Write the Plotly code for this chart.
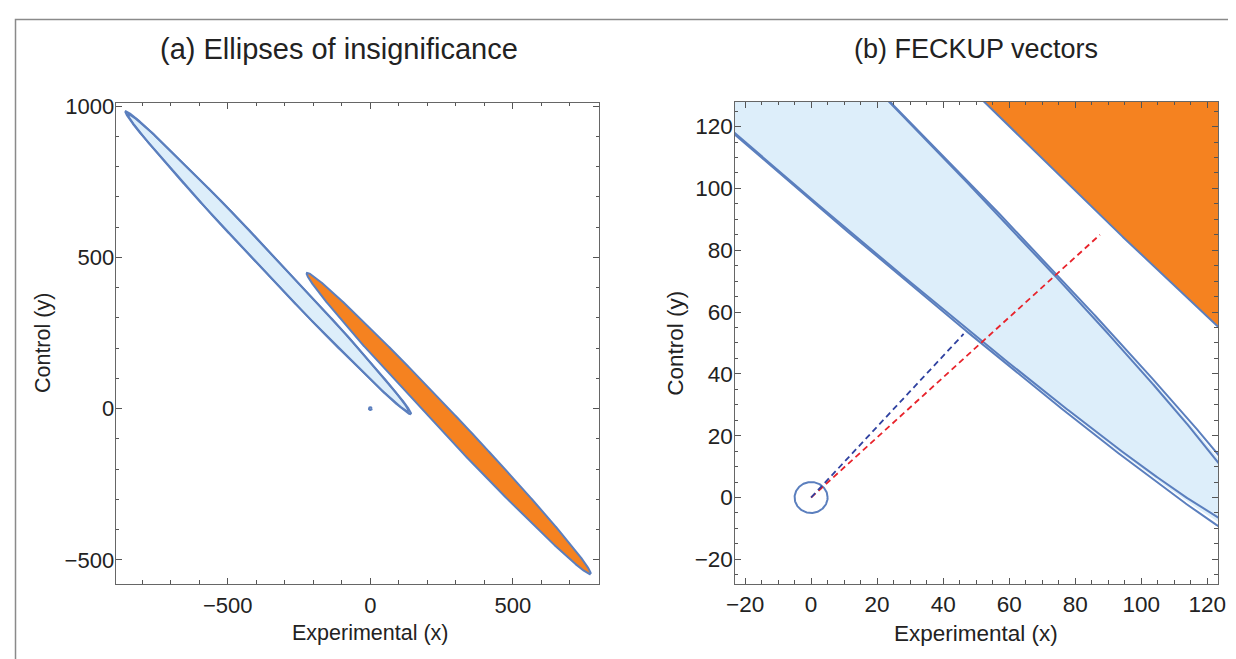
import numpy as np
import plotly.graph_objects as go

# ---------------- data ----------------
# ellipse of insignificance (light blue): centre, semi-axes, tilt
blue_center = [-358.0, 482.0]
blue_semi = [702.0, 29.5]
blue_outline_major = [696.0, 708.0]   # two slightly different drawn outlines
blue_angle = -45.0
# orange ellipse
orange_center = [274.8, -49.1]
orange_semi = [703.6, 35.0]
orange_angle = -45.0
# small circle round the origin
circle_center = [0.0, 0.0]
circle_radius = [5.0]
# FECKUP vectors (from origin)
vec_blue_x = [0.0, 46.2]
vec_blue_y = [0.0, 52.9]
vec_red_x = [0.0, 87.5]
vec_red_y = [0.0, 85.0]

titles = ["(a) Ellipses of insignificance", "(b) FECKUP vectors"]
xlabel = "Experimental (x)"
ylabel = "Control (y)"

range_a_x = [-893, 803]
range_a_y = [-580, 1011]
range_b_x = [-23.2, 123.3]
range_b_y = [-28, 128]

# ---------------- styling ----------------
OFF = 8                      # page body margin of the browser
W, H = 1236 - OFF, 659 - OFF
FONT = "Liberation Sans, Arial, Helvetica, sans-serif"
LINE = "#5b7fbe"
LIGHT = "#ddeefa"
ORANGE = "#f58220"
TXT = "#222222"


def ellipse(c, a, b, ang, n=6001):
    t = np.linspace(0, 2 * np.pi, n)
    th = np.deg2rad(ang)
    x = c[0] + a * np.cos(t) * np.cos(th) - b * np.sin(t) * np.sin(th)
    y = c[1] + a * np.cos(t) * np.sin(th) + b * np.sin(t) * np.cos(th)
    return x, y


fig = go.Figure()


def add_panel(xa, ya, with_vectors):
    x, y = ellipse(blue_center, blue_semi[0], blue_semi[1], blue_angle)
    fig.add_trace(go.Scatter(x=x, y=y, mode="lines", fill="toself",
                             fillcolor=LIGHT, line=dict(color=LIGHT, width=0),
                             xaxis=xa, yaxis=ya, hoverinfo="skip", showlegend=False))
    for amaj in blue_outline_major:
        x, y = ellipse(blue_center, amaj, blue_semi[1], blue_angle)
        fig.add_trace(go.Scatter(x=x, y=y, mode="lines",
                                 line=dict(color=LINE, width=2),
                                 xaxis=xa, yaxis=ya, hoverinfo="skip", showlegend=False))
    x, y = ellipse(orange_center, orange_semi[0], orange_semi[1], orange_angle)
    fig.add_trace(go.Scatter(x=x, y=y, mode="lines", fill="toself",
                             fillcolor=ORANGE, line=dict(color=LINE, width=2),
                             xaxis=xa, yaxis=ya, hoverinfo="skip", showlegend=False))
    x, y = ellipse(circle_center, circle_radius[0], circle_radius[0], 0, 200)
    fig.add_trace(go.Scatter(x=x, y=y, mode="lines",
                             line=dict(color=LINE, width=2),
                             xaxis=xa, yaxis=ya, hoverinfo="skip", showlegend=False))
    if with_vectors:
        fig.add_trace(go.Scatter(x=vec_red_x, y=vec_red_y, mode="lines",
                                 line=dict(color="#e8232b", width=1.8, dash="6px,4px"),
                                 xaxis=xa, yaxis=ya, hoverinfo="skip", showlegend=False))
        fig.add_trace(go.Scatter(x=vec_blue_x, y=vec_blue_y, mode="lines",
                                 line=dict(color="#2f41a0", width=1.8, dash="6px,4px"),
                                 xaxis=xa, yaxis=ya, hoverinfo="skip", showlegend=False))


add_panel("x", "y", False)
add_panel("x2", "y2", True)


def px(v):
    return (v - OFF) / W


def py(v):
    return 1 - (v - OFF) / H


def axis(dom, rng, dtick, minor, fsize, standoff):
    return dict(domain=dom, range=rng, showgrid=False, zeroline=False,
                showline=True, linecolor="#666666", linewidth=1.3, mirror="allticks",
                ticks="inside", ticklen=6, tickwidth=1, tickcolor="#555555",
                tickmode="linear", tick0=0, dtick=dtick,
                minor=dict(ticks="inside", ticklen=3.5, tickwidth=1, tickcolor="#555555",
                           dtick=minor, tick0=0, showgrid=False),
                tickfont=dict(family=FONT, size=fsize, color=TXT),
                ticklabelstandoff=standoff,
                fixedrange=True)


fig.update_layout(
    width=W, height=H,
    margin=dict(l=0, r=0, t=0, b=0),
    paper_bgcolor="white", plot_bgcolor="white",
    showlegend=False,
    xaxis=dict(axis([px(109), px(599)], range_a_x, 500, 100, 22, 1), anchor="y"),
    yaxis=dict(axis([py(583), py(95)], range_a_y, 500, 100, 22, -4), anchor="x"),
    xaxis2=dict(axis([px(736), px(1226)], range_b_x, 20, 5, 22.5, 0), anchor="y2"),
    yaxis2=dict(axis([py(583), py(94)], range_b_y, 20, 5, 22.5, -4), anchor="x2"),
)

ann = []
ann.append(dict(text=titles[0], x=px(335), y=py(40), xref="paper", yref="paper",
                showarrow=False, font=dict(family=FONT, size=29, color=TXT),
                xanchor="center", yanchor="middle"))
ann.append(dict(text=titles[1], x=px(981), y=py(40), xref="paper", yref="paper",
                showarrow=False, font=dict(family=FONT, size=27, color=TXT),
                xanchor="center", yanchor="middle"))
for cx, fs in ((367, 21.5), (981, 22.5)):
    ann.append(dict(text=xlabel, x=px(cx), y=py(633), xref="paper", yref="paper",
                    showarrow=False, font=dict(family=FONT, size=fs, color=TXT),
                    xanchor="center", yanchor="middle"))
for cx, fs in ((36, 21.5), (676, 22.5)):
    ann.append(dict(text=ylabel, x=px(cx), y=py(339), xref="paper", yref="paper",
                    showarrow=False, textangle=-90, font=dict(family=FONT, size=fs, color=TXT),
                    xanchor="center", yanchor="middle"))
fig.update_layout(annotations=ann)

# outer frame (only its top and left edges fall inside the picture)
fig.add_shape(type="rect", xref="paper", yref="paper",
              x0=px(7.5), y0=py(H + 40), x1=px(W + 40), y1=py(10.5),
              line=dict(color="#8a8a8a", width=1.5), fillcolor="rgba(0,0,0,0)", layer="above")

fig.write_html("out.html", config={"displayModeBar": False})
